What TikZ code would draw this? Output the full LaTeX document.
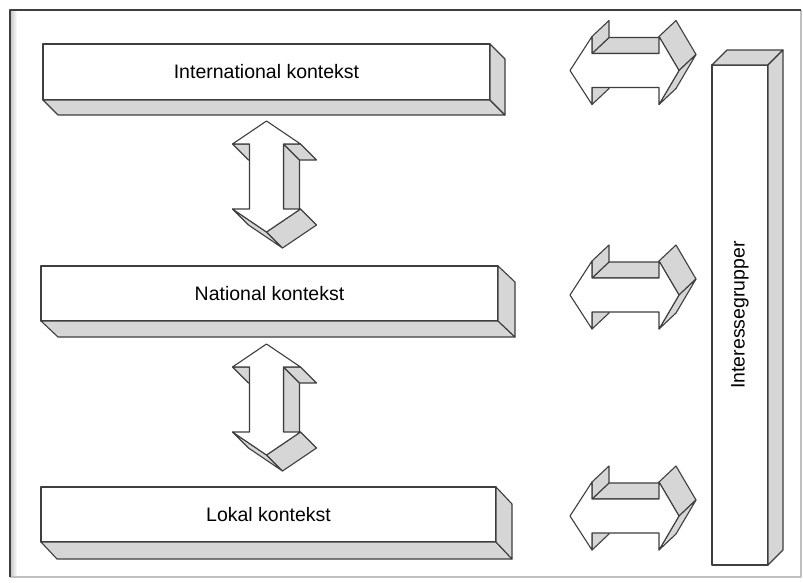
\documentclass[tikz,border=0pt]{standalone}
\usepackage{fontspec}
\setmainfont{Liberation Sans}
\definecolor{edge}{RGB}{62,62,62}
\definecolor{side}{RGB}{214,214,214}

% side faces of a box extruded by (dx,dy) towards the lower right
\newcommand\boxsidesdown[3]{%
  \draw[face] (#1.south west) -- (#1.south east) -- ([shift={(#2,#3)}]#1.south east)
    -- ([shift={(#2,#3)}]#1.south west) -- cycle;
  \draw[face] (#1.north east) -- ([shift={(#2,#3)}]#1.north east)
    -- ([shift={(#2,#3)}]#1.south east) -- (#1.south east) -- cycle;}

% vertical double block arrow, origin at the upper tip
\newcommand\vblockarrow[1]{%
  \begin{scope}[shift={#1}]
    \draw[face] (17,23) -- (17,88) -- (33,104) -- (33,39) -- cycle;
    \draw[face] (17,23) -- (34,23) -- (50,39) -- (33,39) -- cycle;
    \draw[face] (-34,23) -- (-17,23) -- (-1,39) -- (-18,39) -- cycle;
    \draw[face] (-34,88) -- (0,111) -- (16,127) -- (-18,104) -- cycle;
    \draw[face] (0,111) -- (34,88) -- (50,104) -- (16,127) -- cycle;
    \draw[front] (0,0) -- (34,23) -- (17,23) -- (17,88) -- (34,88) -- (0,111)
      -- (-34,88) -- (-17,88) -- (-17,23) -- (-34,23) -- cycle;
  \end{scope}}

% horizontal double block arrow, origin at the left tip
\newcommand\hblockarrow[1]{%
  \begin{scope}[shift={#1}]
    \draw[face] (22,-17) -- (89,-17) -- (106,-33) -- (39,-33) -- cycle;
    \draw[face] (22,-34) -- (22,-17) -- (39,-33) -- (39,-50) -- cycle;
    \draw[face] (22,17) -- (22,34) -- (39,18) -- (39,1) -- cycle;
    \draw[face] (89,-34) -- (109,0) -- (126,-16) -- (106,-50) -- cycle;
    \draw[face] (109,0) -- (89,34) -- (106,18) -- (126,-16) -- cycle;
    \draw[front] (0,0) -- (22,-34) -- (22,-17) -- (89,-17) -- (89,-34) -- (109,0)
      -- (89,34) -- (89,17) -- (22,17) -- (22,34) -- cycle;
  \end{scope}}

\begin{document}
\begin{tikzpicture}[x=1pt,y=-1pt,line join=round,
  face/.style={draw=edge,fill=side,line width=1.1pt},
  front/.style={draw=edge,fill=white,line width=1.1pt},
  labelbox/.style={front,inner sep=0pt,outer sep=0pt,
    font=\fontsize{19.5}{23}\selectfont}]
\useasboundingbox (0,0) rectangle (803,582);
\fill[white] (0,0) rectangle (803,582);

% page frame
\shade[left color=black!22,right color=white] (10.5,10.5) rectangle (17,577);
\draw[black!25,line width=1.4pt] (801,10) -- (801,577) -- (10,577);
\draw[edge,line width=1.3pt] (10,577) -- (10,10) -- (801,10);

% context levels
\node[labelbox,minimum width=447pt,minimum height=56pt] (intl) at (266.5,72) {International kontekst};
\boxsidesdown{intl}{15}{15}
\node[labelbox,minimum width=457pt,minimum height=55pt] (natl) at (269.5,293.5) {National kontekst};
\boxsidesdown{natl}{17}{16}
\node[labelbox,minimum width=455pt,minimum height=55pt] (lokal) at (268.5,514.5) {Lokal kontekst};
\boxsidesdown{lokal}{16}{17}

% interest groups column, extruded towards the upper right
\node[labelbox,minimum width=56pt,minimum height=500pt] (grp) at (740,315) {\rotatebox{90}{Interessegrupper}};
\draw[face] (grp.north west) -- ([shift={(15,-15)}]grp.north west)
  -- ([shift={(15,-15)}]grp.north east) -- (grp.north east) -- cycle;
\draw[face] (grp.north east) -- ([shift={(15,-15)}]grp.north east)
  -- ([shift={(15,-15)}]grp.south east) -- (grp.south east) -- cycle;

% exchanges between the levels
\vblockarrow{(266.5,121)}
\vblockarrow{(266.5,344)}

% exchanges with the interest groups
\hblockarrow{(570,70.5)}
\hblockarrow{(570,295)}
\hblockarrow{(570,516)}
\end{tikzpicture}
\end{document}
